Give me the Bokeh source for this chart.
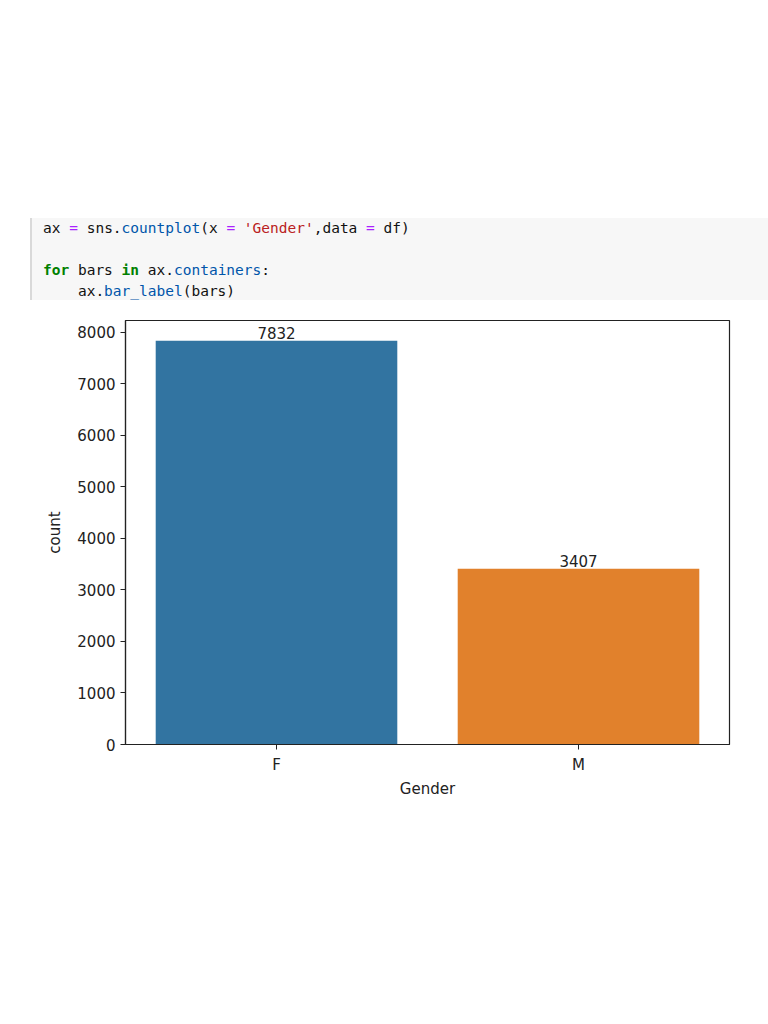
from bokeh.plotting import figure
from bokeh.models import ColumnDataSource, FactorRange, Range1d, Div, FixedTicker, LabelSet
from bokeh.layouts import column
from bokeh.core.properties import value
from bokeh.embed import file_html
from bokeh.resources import INLINE

# data
genders = ["F", "M"]
counts = [7832, 3407]
bar_colors = ["#3274a1", "#e1812c"]
y_ticks = [0, 1000, 2000, 3000, 4000, 5000, 6000, 7000, 8000]

OP = '<span style="color:#aa22ff">=</span>'
def prop(t):
    return '<span style="color:#0055aa">%s</span>' % t
def kw(t):
    return '<span style="color:#008000;font-weight:bold">%s</span>' % t

line_style = "height:21px;line-height:21px;white-space:pre;"
code_lines = [
    "ax %s sns.%s(x %s <span style=\"color:#ba2121\">'Gender'</span>,data %s df)" % (OP, prop("countplot"), OP, OP),
    "",
    "%s bars %s ax.%s:" % (kw("for"), kw("in"), prop("containers")),
    "    ax.%s(bars)" % prop("bar_label"),
]
code_html = (
    '<div style="background:#f7f7f7;border-left:2px solid #d9d9d9;width:738px;'
    'padding:0 0 0 11px;height:82px;box-sizing:border-box;overflow:hidden;'
    'font-family:\'DejaVu Sans Mono\',monospace;font-size:14.5px;color:#111;">'
    + "".join('<div style="%s">%s</div>' % (line_style, l if l else "&nbsp;") for l in code_lines)
    + '</div>'
)
code_div = Div(text=code_html, width=738, height=82, margin=(218, 0, 0, 30))

source = ColumnDataSource(data=dict(gender=genders, count=counts, color=bar_colors,
                                    label=[str(c) for c in counts]))

p = figure(
    x_range=FactorRange(factors=genders, range_padding=0),
    y_range=Range1d(0, max(counts) * 1.05),
    frame_width=604, frame_height=424,
    min_border_left=125, min_border_right=31, min_border_top=20, min_border_bottom=60,
    output_backend="svg", toolbar_location=None,
    margin=(0, 0, 0, 0),
)
p.vbar(x="gender", top="count", width=0.8, color="color", line_color=None, source=source)
labels = LabelSet(x="gender", y="count", text="label", source=source,
                  text_align="center", text_baseline="bottom", y_offset=2,
                  text_font=value("DejaVu Sans"), text_font_size="15px", text_color="#222222")
p.add_layout(labels)

p.xgrid.grid_line_color = None
p.ygrid.grid_line_color = None
p.outline_line_color = "#222222"
p.outline_line_width = 1.2
p.background_fill_color = "white"
p.border_fill_color = "white"

p.yaxis.ticker = FixedTicker(ticks=y_ticks)
for ax in (p.xaxis[0], p.yaxis[0]):
    ax.axis_line_color = "#222222"
    ax.axis_line_width = 1.2
    ax.major_tick_line_color = "#222222"
    ax.major_tick_in = 0
    ax.major_tick_out = 5
    ax.minor_tick_line_color = None
    ax.major_label_text_font = "DejaVu Sans"
    ax.major_label_text_font_size = "15px"
    ax.major_label_text_color = "#222222"
    ax.axis_label_text_font = "DejaVu Sans"
    ax.axis_label_text_font_size = "15px"
    ax.axis_label_text_font_style = "normal"
    ax.axis_label_text_color = "#222222"

p.xaxis.axis_label = "Gender"
p.yaxis.axis_label = "count"
p.xaxis.axis_label_standoff = 3
p.xaxis.major_label_standoff = 6
p.yaxis.axis_label_standoff = 10

layout = column(code_div, p, spacing=0)

open("out.html", "w").write(file_html(layout, INLINE))
